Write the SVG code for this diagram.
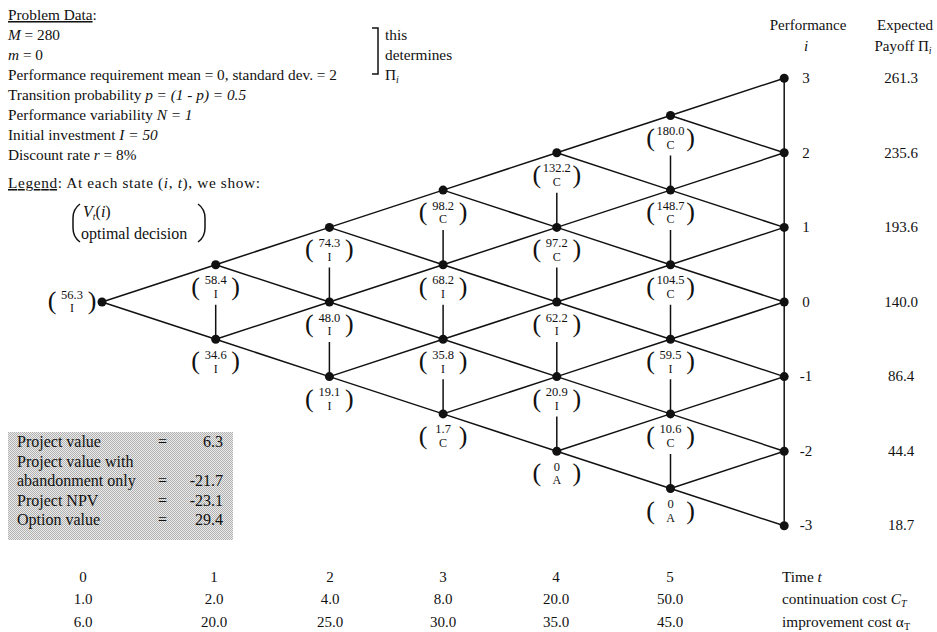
<svg xmlns="http://www.w3.org/2000/svg" width="937" height="632" viewBox="0 0 937 632">
<defs>
<style>
text{font-family:"Liberation Serif","Times New Roman",serif;fill:#111;}
.t{font-size:15.3px;}
.b{font-size:16px;}
.v{font-size:12.5px;text-anchor:middle;}
.l{font-size:12px;text-anchor:middle;}
.p{font-size:26px;text-anchor:middle;}
.it{font-style:italic;}
.e{stroke:#111;stroke-width:1.5;fill:none;}
.d{fill:#111;}
.c{text-anchor:middle;font-size:15px;}
</style>
<pattern id="dots" width="2" height="2" patternUnits="userSpaceOnUse"><rect width="2" height="2" fill="#ececec"/><rect width="1" height="1" fill="#b0b0b0"/><rect x="1" y="1" width="1" height="1" fill="#b0b0b0"/></pattern>
</defs>
<rect width="937" height="632" fill="#fff"/>

<g id="problem-data">
<text class="t" x="8" y="20"><tspan text-decoration="underline">Problem Data</tspan>:</text>
<text class="t" x="8" y="40"><tspan class="it">M</tspan> = 280</text>
<text class="t" x="8" y="60"><tspan class="it">m</tspan> = 0</text>
<text class="t" x="8" y="80">Performance requirement mean = 0, standard dev. = 2</text>
<text class="t" x="8" y="100">Transition probability <tspan class="it">p = (1 - p) = 0.5</tspan></text>
<text class="t" x="8" y="120">Performance variability <tspan class="it">N = 1</tspan></text>
<text class="t" x="8" y="140">Initial investment <tspan class="it">I = 50</tspan></text>
<text class="t" x="8" y="160">Discount rate <tspan class="it">r</tspan> = 8%</text>
<path class="e" d="M372,28 H378 V74 H372" stroke-width="1.3"/>
<text class="t" x="385" y="40">this</text>
<text class="t" x="385" y="60">determines</text>
<text class="t" x="385" y="80">Π<tspan font-size="10" dy="3" class="it">i</tspan></text>
</g>

<g id="legend">
<text class="t" x="8" y="188" textLength="252" lengthAdjust="spacing"><tspan text-decoration="underline">Legend</tspan>: At each state (<tspan class="it">i</tspan>, <tspan class="it">t</tspan>), we show:</text>
<path class="e" stroke-width="1.2" d="M80,204 Q73,209 73,218 V228 Q73,237 80,242"/>
<path class="e" stroke-width="1.2" d="M198,204 Q205,209 205,218 V228 Q205,237 198,242"/>
<text class="b" x="83" y="217"><tspan class="it">V</tspan><tspan class="it" font-size="10" dy="3">t</tspan><tspan dy="-3">(</tspan><tspan class="it">i</tspan>)</text>
<text class="b" x="81" y="239">optimal decision</text>
</g>

<g id="connectors">
<path class="e" d="M102,302 L215.7,264.7 L329.4,227.4 L443.1,190.1 L556.8,152.8 L670.5,115.5 L784.2,78.2"/>
<path class="e" d="M102,302 L215.7,339.3 L329.4,376.6 L443.1,413.9 L556.8,451.2 L670.5,488.5 L784.2,525.8"/>
<path class="e" d="M215.7,264.7 L329.4,302 L443.1,339.3 L556.8,376.6 L670.5,413.9 L784.2,451.2"/>
<path class="e" d="M329.4,227.4 L443.1,264.7 L556.8,302 L670.5,339.3 L784.2,376.6"/>
<path class="e" d="M443.1,190.1 L556.8,227.4 L670.5,264.7 L784.2,302"/>
<path class="e" d="M556.8,152.8 L670.5,190.1 L784.2,227.4"/>
<path class="e" d="M670.5,115.5 L784.2,152.8"/>
<path class="e" d="M215.7,339.3 L329.4,302 L443.1,264.7 L556.8,227.4 L670.5,190.1 L784.2,152.8"/>
<path class="e" d="M329.4,376.6 L443.1,339.3 L556.8,302 L670.5,264.7 L784.2,227.4"/>
<path class="e" d="M443.1,413.9 L556.8,376.6 L670.5,339.3 L784.2,302"/>
<path class="e" d="M556.8,451.2 L670.5,413.9 L784.2,376.6"/>
<path class="e" d="M670.5,488.5 L784.2,451.2"/>
<path class="e" d="M784.2,78.2 V525.8"/>
<path class="e" d="M215.7,304.7 V339.3 M329.4,267.4 V302 M329.4,342 V376.6 M443.1,230.1 V264.7 M443.1,304.7 V339.3 M443.1,379.3 V413.9 M556.8,192.8 V227.4 M556.8,267.4 V302 M556.8,342 V376.6 M556.8,416.6 V451.2 M670.5,155.5 V190.1 M670.5,230.1 V264.7 M670.5,304.7 V339.3 M670.5,379.3 V413.9 M670.5,453.9 V488.5"/>
</g>

<g id="dots-layer" class="d">
<circle cx="102" cy="302" r="4.5"/>
<circle cx="215.7" cy="264.7" r="4.5"/><circle cx="215.7" cy="339.3" r="4.5"/>
<circle cx="329.4" cy="227.4" r="4.5"/><circle cx="329.4" cy="302" r="4.5"/><circle cx="329.4" cy="376.6" r="4.5"/>
<circle cx="443.1" cy="190.1" r="4.5"/><circle cx="443.1" cy="264.7" r="4.5"/><circle cx="443.1" cy="339.3" r="4.5"/><circle cx="443.1" cy="413.9" r="4.5"/>
<circle cx="556.8" cy="152.8" r="4.5"/><circle cx="556.8" cy="227.4" r="4.5"/><circle cx="556.8" cy="302" r="4.5"/><circle cx="556.8" cy="376.6" r="4.5"/><circle cx="556.8" cy="451.2" r="4.5"/>
<circle cx="670.5" cy="115.5" r="4.5"/><circle cx="670.5" cy="190.1" r="4.5"/><circle cx="670.5" cy="264.7" r="4.5"/><circle cx="670.5" cy="339.3" r="4.5"/><circle cx="670.5" cy="413.9" r="4.5"/><circle cx="670.5" cy="488.5" r="4.5"/>
<circle cx="784.2" cy="78.2" r="4.5"/><circle cx="784.2" cy="152.8" r="4.5"/><circle cx="784.2" cy="227.4" r="4.5"/><circle cx="784.2" cy="302" r="4.5"/><circle cx="784.2" cy="376.6" r="4.5"/><circle cx="784.2" cy="451.2" r="4.5"/><circle cx="784.2" cy="525.8" r="4.5"/>
</g>

<g id="n-0-0" transform="translate(72,279)"><text class="p" x="-20" y="30">(</text><text class="p" x="20" y="30">)</text><text class="v" y="19.5">56.3</text><text class="l" y="33.3">I</text></g>
<g id="n-1-1" transform="translate(215.7,264.7)"><text class="p" x="-20" y="30">(</text><text class="p" x="20" y="30">)</text><text class="v" y="19.5">58.4</text><text class="l" y="33.3">I</text></g>
<g id="n-1-0" transform="translate(215.7,339.3)"><text class="p" x="-20" y="30">(</text><text class="p" x="20" y="30">)</text><text class="v" y="19.5">34.6</text><text class="l" y="33.3">I</text></g>
<g id="n-2-2" transform="translate(329.4,227.4)"><text class="p" x="-20" y="30">(</text><text class="p" x="20" y="30">)</text><text class="v" y="19.5">74.3</text><text class="l" y="33.3">I</text></g>
<g id="n-2-1" transform="translate(329.4,302)"><text class="p" x="-20" y="30">(</text><text class="p" x="20" y="30">)</text><text class="v" y="19.5">48.0</text><text class="l" y="33.3">I</text></g>
<g id="n-2-0" transform="translate(329.4,376.6)"><text class="p" x="-20" y="30">(</text><text class="p" x="20" y="30">)</text><text class="v" y="19.5">19.1</text><text class="l" y="33.3">I</text></g>
<g id="n-3-3" transform="translate(443.1,190.1)"><text class="p" x="-20" y="30">(</text><text class="p" x="20" y="30">)</text><text class="v" y="19.5">98.2</text><text class="l" y="33.3">C</text></g>
<g id="n-3-2" transform="translate(443.1,264.7)"><text class="p" x="-20" y="30">(</text><text class="p" x="20" y="30">)</text><text class="v" y="19.5">68.2</text><text class="l" y="33.3">I</text></g>
<g id="n-3-1" transform="translate(443.1,339.3)"><text class="p" x="-20" y="30">(</text><text class="p" x="20" y="30">)</text><text class="v" y="19.5">35.8</text><text class="l" y="33.3">I</text></g>
<g id="n-3-0" transform="translate(443.1,413.9)"><text class="p" x="-20" y="30">(</text><text class="p" x="20" y="30">)</text><text class="v" y="19.5">1.7</text><text class="l" y="33.3">C</text></g>
<g id="n-4-4" transform="translate(556.8,152.8)"><text class="p" x="-20" y="30">(</text><text class="p" x="20" y="30">)</text><text class="v" y="19.5">132.2</text><text class="l" y="33.3">C</text></g>
<g id="n-4-3" transform="translate(556.8,227.4)"><text class="p" x="-20" y="30">(</text><text class="p" x="20" y="30">)</text><text class="v" y="19.5">97.2</text><text class="l" y="33.3">C</text></g>
<g id="n-4-2" transform="translate(556.8,302)"><text class="p" x="-20" y="30">(</text><text class="p" x="20" y="30">)</text><text class="v" y="19.5">62.2</text><text class="l" y="33.3">I</text></g>
<g id="n-4-1" transform="translate(556.8,376.6)"><text class="p" x="-20" y="30">(</text><text class="p" x="20" y="30">)</text><text class="v" y="19.5">20.9</text><text class="l" y="33.3">I</text></g>
<g id="n-4-0" transform="translate(556.8,451.2)"><text class="p" x="-20" y="30">(</text><text class="p" x="20" y="30">)</text><text class="v" y="19.5">0</text><text class="l" y="33.3">A</text></g>
<g id="n-5-5" transform="translate(670.5,115.5)"><text class="p" x="-20" y="30">(</text><text class="p" x="20" y="30">)</text><text class="v" y="19.5">180.0</text><text class="l" y="33.3">C</text></g>
<g id="n-5-4" transform="translate(670.5,190.1)"><text class="p" x="-20" y="30">(</text><text class="p" x="20" y="30">)</text><text class="v" y="19.5">148.7</text><text class="l" y="33.3">C</text></g>
<g id="n-5-3" transform="translate(670.5,264.7)"><text class="p" x="-20" y="30">(</text><text class="p" x="20" y="30">)</text><text class="v" y="19.5">104.5</text><text class="l" y="33.3">C</text></g>
<g id="n-5-2" transform="translate(670.5,339.3)"><text class="p" x="-20" y="30">(</text><text class="p" x="20" y="30">)</text><text class="v" y="19.5">59.5</text><text class="l" y="33.3">I</text></g>
<g id="n-5-1" transform="translate(670.5,413.9)"><text class="p" x="-20" y="30">(</text><text class="p" x="20" y="30">)</text><text class="v" y="19.5">10.6</text><text class="l" y="33.3">C</text></g>
<g id="n-5-0" transform="translate(670.5,488.5)"><text class="p" x="-20" y="30">(</text><text class="p" x="20" y="30">)</text><text class="v" y="19.5">0</text><text class="l" y="33.3">A</text></g>

<g id="performance-col">
<text class="c" x="808" y="30">Performance</text>
<text class="c it" x="806" y="51">i</text>
<text class="c" x="806" y="83">3</text>
<text class="c" x="806" y="158">2</text>
<text class="c" x="806" y="232">1</text>
<text class="c" x="806" y="307">0</text>
<text class="c" x="806" y="381">-1</text>
<text class="c" x="806" y="456">-2</text>
<text class="c" x="806" y="530">-3</text>
</g>
<g id="payoff-col">
<text class="c" x="905" y="30">Expected</text>
<text class="c" x="903" y="51">Payoff Π<tspan class="it" font-size="10" dy="3">i</tspan></text>
<text class="c" x="901" y="83">261.3</text>
<text class="c" x="901" y="158">235.6</text>
<text class="c" x="901" y="232">193.6</text>
<text class="c" x="901" y="307">140.0</text>
<text class="c" x="901" y="381">86.4</text>
<text class="c" x="901" y="456">44.4</text>
<text class="c" x="901" y="530">18.7</text>
</g>

<g id="summary-box">
<rect x="8" y="432" width="225" height="108" fill="url(#dots)"/>
<text class="b" x="17" y="447">Project value</text><text class="b" x="158" y="447">=</text><text class="b" x="223" y="447" text-anchor="end">6.3</text>
<text class="b" x="17" y="466.5">Project value with</text>
<text class="b" x="17" y="486">abandonment only</text><text class="b" x="158" y="486">=</text><text class="b" x="223" y="486" text-anchor="end">-21.7</text>
<text class="b" x="17" y="505.5">Project NPV</text><text class="b" x="158" y="505.5">=</text><text class="b" x="223" y="505.5" text-anchor="end">-23.1</text>
<text class="b" x="17" y="525">Option value</text><text class="b" x="158" y="525">=</text><text class="b" x="223" y="525" text-anchor="end">29.4</text>
</g>

<g id="bottom-table">
<text class="c" x="83" y="582">0</text><text class="c" x="214" y="582">1</text><text class="c" x="330" y="582">2</text><text class="c" x="443" y="582">3</text><text class="c" x="556" y="582">4</text><text class="c" x="670" y="582">5</text>
<text class="c" x="83" y="604">1.0</text><text class="c" x="214" y="604">2.0</text><text class="c" x="330" y="604">4.0</text><text class="c" x="443" y="604">8.0</text><text class="c" x="556" y="604">20.0</text><text class="c" x="670" y="604">50.0</text>
<text class="c" x="83" y="627">6.0</text><text class="c" x="214" y="627">20.0</text><text class="c" x="330" y="627">25.0</text><text class="c" x="443" y="627">30.0</text><text class="c" x="556" y="627">35.0</text><text class="c" x="670" y="627">45.0</text>
<text class="t" x="782" y="582">Time <tspan class="it">t</tspan></text>
<text class="t" x="782" y="604">continuation cost <tspan class="it">C</tspan><tspan class="it" font-size="10" dy="3">T</tspan></text>
<text class="t" x="782" y="627">improvement cost  α<tspan font-size="10" dy="3">T</tspan></text>
</g>
</svg>
